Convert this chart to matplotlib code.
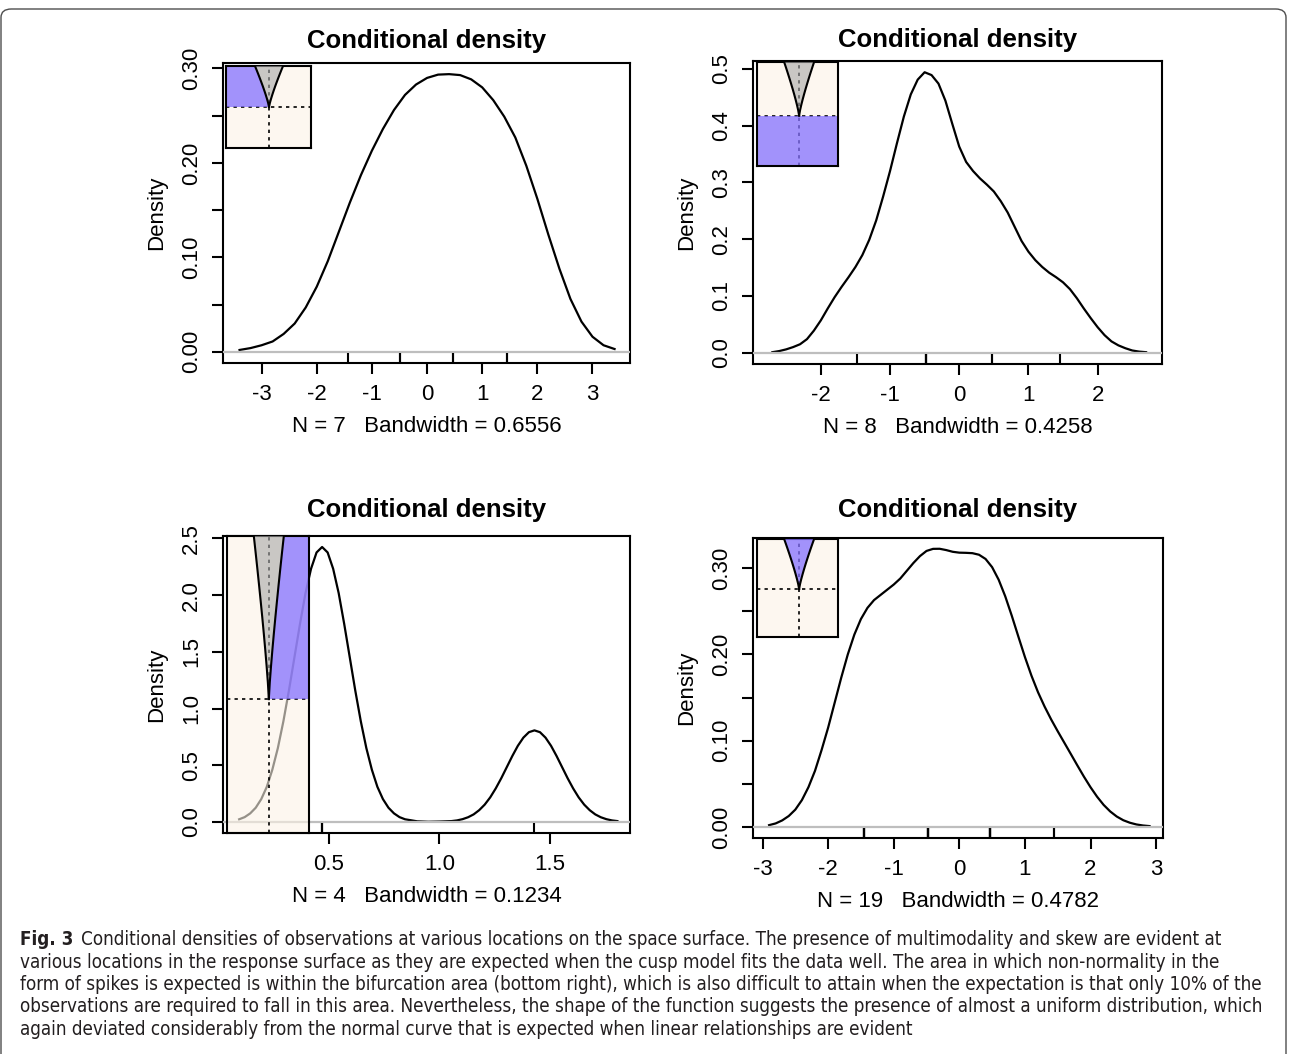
import matplotlib
matplotlib.use('Agg')
import matplotlib.pyplot as plt
from matplotlib.patches import Polygon, Rectangle, FancyBboxPatch

plt.rcParams['font.family'] = ['Liberation Sans', 'DejaVu Sans']

W_PX, H_PX = 1295, 1054

# ---- values ----
# top left panel (N = 7)
p1_x = [-3.4, -3.2, -3.0, -2.8, -2.6, -2.4, -2.2, -2.0, -1.8, -1.6, -1.4, -1.2,
        -1.0, -0.8, -0.6, -0.4, -0.2, 0.0, 0.2, 0.4, 0.6, 0.8, 1.0, 1.2, 1.4,
        1.6, 1.8, 2.0, 2.2, 2.4, 2.6, 2.8, 3.0, 3.2, 3.4]
p1_y = [0.002, 0.004, 0.007, 0.011, 0.019, 0.030, 0.047, 0.069, 0.096, 0.127,
        0.158, 0.187, 0.213, 0.236, 0.256, 0.272, 0.283, 0.290, 0.2935, 0.294,
        0.293, 0.2885, 0.280, 0.2665, 0.249, 0.227, 0.197, 0.162, 0.124, 0.088,
        0.056, 0.032, 0.016, 0.007, 0.003]
p1_obs = [-1.43, -0.49, -0.49, 0.47, 0.47, 1.45, 1.45]

# top right panel (N = 8)
p2_x = [-2.7, -2.6, -2.5, -2.4, -2.3, -2.2, -2.1, -2.0, -1.9, -1.8, -1.7, -1.6,
        -1.5, -1.4, -1.3, -1.2, -1.1, -1.0, -0.9, -0.8, -0.7, -0.6, -0.5, -0.4,
        -0.3, -0.2, -0.1, 0.0, 0.1, 0.2, 0.3, 0.4, 0.5, 0.6, 0.7, 0.8, 0.9, 1.0,
        1.1, 1.2, 1.3, 1.4, 1.5, 1.6, 1.7, 1.8, 1.9, 2.0, 2.1, 2.2, 2.3, 2.4,
        2.5, 2.6, 2.7]
p2_y = [0.001, 0.003, 0.006, 0.010, 0.015, 0.024, 0.039, 0.057, 0.078, 0.098,
        0.116, 0.133, 0.151, 0.172, 0.199, 0.233, 0.275, 0.320, 0.369, 0.416,
        0.455, 0.481, 0.494, 0.489, 0.474, 0.444, 0.403,
        0.363, 0.336, 0.320, 0.307, 0.296, 0.284, 0.267, 0.247, 0.222, 0.197,
        0.178, 0.163, 0.151, 0.141, 0.133, 0.124, 0.112, 0.096, 0.078, 0.061,
        0.045, 0.031, 0.020, 0.013, 0.008, 0.004, 0.002, 0.001]
p2_obs = [-1.48, -0.48, -0.48, -0.48, -0.48, 0.47, 0.47, 1.45]

# bottom left panel (N = 4)
p3_x = [0.095, 0.12, 0.145, 0.17, 0.195, 0.22, 0.245, 0.27, 0.295, 0.32, 0.345,
        0.37, 0.395, 0.42, 0.445, 0.47, 0.495, 0.52, 0.545, 0.57, 0.595, 0.62,
        0.645, 0.67, 0.695, 0.72, 0.745, 0.77, 0.795, 0.82, 0.845,
        0.9, 0.95, 1.0,
        1.055, 1.08, 1.105, 1.13, 1.155, 1.18, 1.205, 1.23, 1.255, 1.28, 1.305,
        1.33, 1.355, 1.38, 1.405, 1.43, 1.455, 1.48, 1.505, 1.53, 1.555, 1.58,
        1.605, 1.63, 1.655, 1.68, 1.705, 1.73, 1.755, 1.78, 1.805]
p3_y = [0.024, 0.043, 0.076, 0.126, 0.202, 0.310, 0.461, 0.652, 0.888, 1.159,
        1.453, 1.746, 2.018, 2.233, 2.377, 2.425, 2.377, 2.233, 2.018, 1.746,
        1.453, 1.159, 0.888, 0.652, 0.461, 0.310, 0.202, 0.126, 0.076, 0.043,
        0.024,
        0.006, 0.002, 0.004,
        0.008, 0.014, 0.025, 0.042, 0.067, 0.104, 0.153, 0.217, 0.296, 0.386,
        0.484, 0.582, 0.672, 0.744, 0.792, 0.808, 0.792, 0.744, 0.672, 0.582,
        0.484, 0.386, 0.296, 0.217, 0.153, 0.104, 0.067, 0.042, 0.025, 0.014,
        0.008]
p3_obs = [0.468, 0.468, 0.468, 1.428]

# bottom right panel (N = 19)
p4_x = [-2.9, -2.8, -2.7, -2.6, -2.5, -2.4, -2.3, -2.2, -2.1, -2.0, -1.9, -1.8,
        -1.7, -1.6, -1.5, -1.4, -1.3, -1.2, -1.1, -1.0, -0.9, -0.8, -0.7, -0.6,
        -0.5, -0.4, -0.3, -0.2, -0.1, 0.0, 0.1, 0.2, 0.3, 0.4, 0.5, 0.6, 0.7,
        0.8, 0.9, 1.0, 1.1, 1.2, 1.3, 1.4, 1.5, 1.6, 1.7, 1.8, 1.9, 2.0, 2.1,
        2.2, 2.3, 2.4, 2.5, 2.6, 2.7, 2.8, 2.9]
p4_y = [0.002, 0.004, 0.0075, 0.0126, 0.020, 0.031, 0.046, 0.065, 0.089, 0.115,
        0.144, 0.173, 0.200, 0.223, 0.241, 0.254, 0.263, 0.269, 0.275, 0.281,
        0.288, 0.297, 0.306, 0.314, 0.320, 0.3224, 0.3225, 0.321, 0.319,
        0.318, 0.3178, 0.3174, 0.3156, 0.3107, 0.3012, 0.2866, 0.2674, 0.2448,
        0.2207, 0.197, 0.1753, 0.1561, 0.1395, 0.1246, 0.1109, 0.0977, 0.0845,
        0.0712, 0.0582, 0.046, 0.035, 0.0255, 0.0179, 0.012, 0.0077, 0.0048,
        0.0028, 0.0016, 0.0009]
p4_obs = [-1.46] * 5 + [-0.48] * 6 + [0.47] * 6 + [1.45] * 2

xlabels = ['N = 7   Bandwidth = 0.6556', 'N = 8   Bandwidth = 0.4258',
           'N = 4   Bandwidth = 0.1234', 'N = 19   Bandwidth = 0.4782']

# shape of the cusp funnel drawn in the small inset plots
funnel_t = [0.0, 0.1, 0.2, 0.3, 0.4, 0.5, 0.6, 0.7, 0.8, 0.9, 1.0]
funnel_w = [0.0, 0.063, 0.145, 0.236, 0.333, 0.435, 0.542, 0.652, 0.765, 0.881, 1.0]

caption = [
    'Conditional densities of observations at various locations on the space surface. The presence of multimodality and skew are evident at',
    'various locations in the response surface as they are expected when the cusp model fits the data well. The area in which non-normality in the',
    'form of spikes is expected is within the bifurcation area (bottom right), which is also difficult to attain when the expectation is that only 10% of the',
    'observations are required to fall in this area. Nevertheless, the shape of the function suggests the presence of almost a uniform distribution, which',
    'again deviated considerably from the normal curve that is expected when linear relationships are evident',
]

BLUE = '#8470ff'
BEIGE = '#fcf3e6'
GREY = '#a7a7a7'

fig = plt.figure(figsize=(W_PX / 100, H_PX / 100), dpi=100)


def px_rect(x0, y0, x1, y1):
    return [x0 / W_PX, 1 - y1 / H_PX, (x1 - x0) / W_PX, (y1 - y0) / H_PX]


def panel(rect, x, y, obs, xlim, ylim, xticks, xticklabels, yticks, yticklabels,
          xlab, title_pad):
    ax = fig.add_axes(px_rect(*rect))
    ax.plot(x, y, color='black', lw=1.6, zorder=2)
    ax.axhline(0, color='#bebebe', lw=1.6, zorder=3)
    # rug of the observations
    ax.vlines(obs, 0, 0.033, transform=ax.get_xaxis_transform(),
              color='black', lw=1.5, zorder=3)
    ax.set_xlim(xlim)
    ax.set_ylim(ylim)
    ax.set_xticks(xticks)
    ax.set_xticklabels(xticklabels)
    ax.set_yticks(yticks)
    ax.set_yticklabels(yticklabels, rotation=90, va='center')
    ax.tick_params(direction='out', length=8, width=1.5, labelsize=16, pad=7)
    for s in ax.spines.values():
        s.set_linewidth(1.5)
    ax.set_xlabel(xlab, fontsize=16, labelpad=8)
    ax.set_ylabel('Density', fontsize=16, labelpad=10)
    ax.set_title('Conditional density', fontsize=18.5, fontweight='bold',
                 pad=title_pad)
    return ax


def inset(rect, xv, yh, half, kind):
    ia = fig.add_axes(px_rect(*rect))
    ia.set_xlim(0, 1)
    ia.set_ylim(0, 1)
    ia.set_xticks([])
    ia.set_yticks([])
    ia.patch.set_alpha(0)
    ia.add_patch(Rectangle((0, 0), 1, 1, facecolor=BEIGE, alpha=0.6,
                           edgecolor='none', zorder=0))
    ia.plot([xv, xv], [0, 1], color='black', lw=1.2, ls=(0, (2, 2.5)), zorder=1)
    ia.plot([0, 1], [yh, yh], color='black', lw=1.2, ls=(0, (2, 2.5)), zorder=1)
    left = [(xv - half * w, yh + (1 - yh) * t) for t, w in zip(funnel_t, funnel_w)]
    right = [(xv + half * w, yh + (1 - yh) * t) for t, w in zip(funnel_t, funnel_w)]
    funnel = left[::-1] + right
    if kind == 'left':
        ia.add_patch(Polygon([(0, 1)] + left[::-1] + [(0, yh)], closed=True,
                             facecolor=BLUE, alpha=0.75, edgecolor='none', zorder=2))
    elif kind == 'right':
        ia.add_patch(Polygon([(1, 1)] + right[::-1] + [(1, yh)], closed=True,
                             facecolor=BLUE, alpha=0.75, edgecolor='none', zorder=2))
    elif kind == 'bottom':
        ia.add_patch(Rectangle((0, 0), 1, yh, facecolor=BLUE, alpha=0.75,
                               edgecolor='none', zorder=2))
    if kind == 'funnel':
        ia.add_patch(Polygon(funnel, closed=True, facecolor=BLUE, alpha=0.75,
                             edgecolor='none', zorder=3))
    else:
        ia.add_patch(Polygon(funnel, closed=True, facecolor=GREY, alpha=0.6,
                             edgecolor='none', zorder=3))
    ia.plot([p[0] for p in left], [p[1] for p in left], color='black', lw=1.5, zorder=4)
    ia.plot([p[0] for p in right], [p[1] for p in right], color='black', lw=1.5, zorder=4)
    for s in ia.spines.values():
        s.set_linewidth(1.5)
    return ia


panel((223, 63, 630, 363), p1_x, p1_y, p1_obs, (-3.70, 3.68), (-0.0118, 0.3058),
      [-3, -2, -1, 0, 1, 2, 3], ['-3', '-2', '-1', '0', '1', '2', '3'],
      [0, 0.05, 0.10, 0.15, 0.20, 0.25, 0.30],
      ['0.00', '', '0.10', '', '0.20', '', '0.30'], xlabels[0], 11)
panel((753, 61, 1162, 364), p2_x, p2_y, p2_obs, (-2.98, 2.93), (-0.0198, 0.5138),
      [-2, -1, 0, 1, 2], ['-2', '-1', '0', '1', '2'],
      [0, 0.1, 0.2, 0.3, 0.4, 0.5],
      ['0.0', '0.1', '0.2', '0.3', '0.4', '0.5'], xlabels[1], 10)
panel((223, 536, 630, 833), p3_x, p3_y, p3_obs, (0.022, 1.862), (-0.097, 2.522),
      [0.5, 1.0, 1.5], ['0.5', '1.0', '1.5'],
      [0, 0.5, 1.0, 1.5, 2.0, 2.5],
      ['0.0', '0.5', '1.0', '1.5', '2.0', '2.5'], xlabels[2], 14)
panel((753, 538, 1163, 838), p4_x, p4_y, p4_obs, (-3.145, 3.105), (-0.0129, 0.335),
      [-3, -2, -1, 0, 1, 2, 3], ['-3', '-2', '-1', '0', '1', '2', '3'],
      [0, 0.05, 0.10, 0.15, 0.20, 0.25, 0.30],
      ['0.00', '', '0.10', '', '0.20', '', '0.30'], xlabels[3], 15)

inset((226, 66, 311, 148), 0.506, 0.50, 0.165, 'left')
inset((757, 62, 838, 166), 0.52, 0.485, 0.185, 'bottom')
inset((227, 536, 309, 833), 0.51, 0.451, 0.183, 'right')
inset((757, 539, 838, 637), 0.52, 0.49, 0.185, 'funnel')

# frame around figure
fig.patches.append(FancyBboxPatch((1 / W_PX, -0.05), 1285 / W_PX, 1 - 9 / H_PX + 0.05,
                                  boxstyle='round,pad=0,rounding_size=0.008',
                                  transform=fig.transFigure, facecolor='none',
                                  edgecolor='#4d4d4d', lw=1.0))

# caption
cap_font = ['Liberation Sans Narrow', 'DejaVu Sans']
cap_base = [945, 967.5, 990, 1012.5, 1035]
renderer = fig.canvas.get_renderer()


def draw_caption(fs):
    made = []
    y0 = 1 - cap_base[0] / H_PX
    b = fig.text(20 / W_PX, y0, 'Fig. 3', fontsize=fs, fontweight='bold',
                 family=cap_font, fontstretch='condensed', va='baseline',
                 color='#231f20')
    bb = b.get_window_extent(renderer)
    r = fig.text((bb.x1 + fs * 0.6) / W_PX, y0, caption[0], fontsize=fs,
                 family=cap_font, fontstretch='condensed', va='baseline',
                 color='#231f20')
    made += [b, r]
    for line, yb in zip(caption[1:], cap_base[1:]):
        made.append(fig.text(20 / W_PX, 1 - yb / H_PX, line, fontsize=fs,
                             family=cap_font, fontstretch='condensed',
                             va='baseline', color='#231f20'))
    right = r.get_window_extent(renderer).x1
    return made, right


texts, right = draw_caption(14)
scale = (1232 - 20) / (right - 20)
for t in texts:
    t.remove()
draw_caption(14 * scale)

fig.savefig('out.png', dpi=100)
